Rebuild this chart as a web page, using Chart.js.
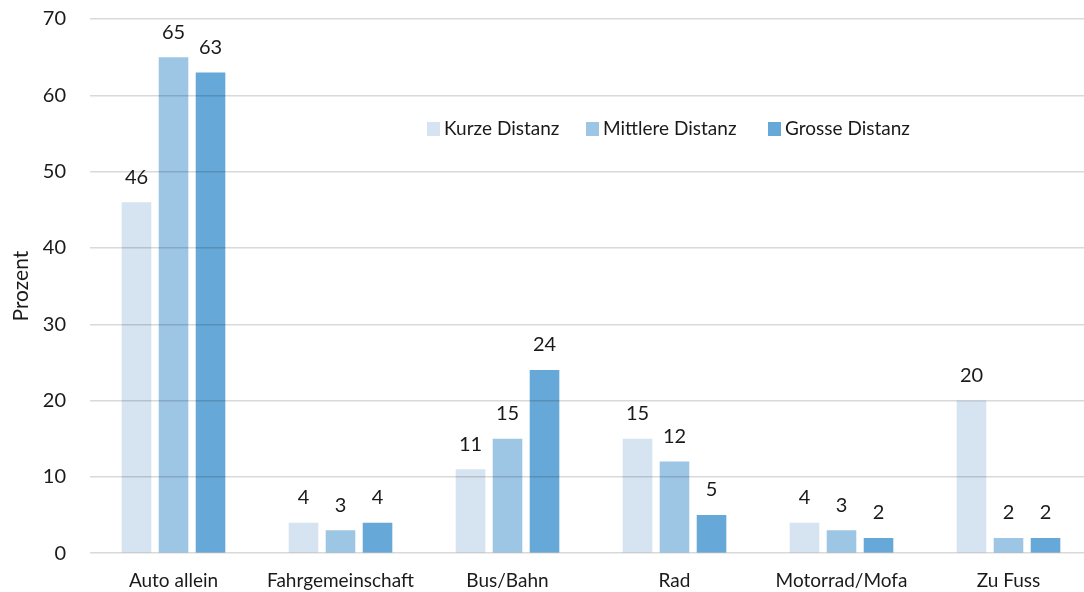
<!DOCTYPE html>
<html><head><meta charset="utf-8">
<script src="https://cdn.jsdelivr.net/npm/chart.js@4"></script>
<style>html,body{margin:0;padding:0;background:#fff}#c{display:block}</style>
</head><body>
<canvas id="c" width="1084" height="592"></canvas>
<script>
const categories = ["Auto allein","Fahrgemeinschaft","Bus/Bahn","Rad","Motorrad/Mofa","Zu Fuss"];
const seriesNames = ["Kurze Distanz","Mittlere Distanz","Grosse Distanz"];
const kurze = [46,4,11,15,4,20];
const mittlere = [65,3,15,12,3,2];
const grosse = [63,4,24,5,2,2];
const yTicks = [0,10,20,30,40,50,60,70];
const colors = ["#d6e3f0","#9dc6e5","#66a8d8"];
const FONT = "Lato, 'Liberation Sans', sans-serif";

const labelPlugin = {
  id: 'valueLabels',
  afterDatasetsDraw(chart) {
    const ctx = chart.ctx;
    ctx.save();
    ctx.font = "20px " + FONT;
    ctx.fillStyle = "#1a1a1a";
    ctx.textAlign = "center";
    ctx.textBaseline = "middle";
    chart.data.datasets.forEach((ds, i) => {
      chart.getDatasetMeta(i).data.forEach((bar, j) => {
        ctx.fillText(String(ds.data[j]), bar.x, bar.y - 25);
      });
    });
    ctx.restore();
  }
};
const legendPlugin = {
  id: 'inLegend',
  afterDraw(chart) {
    const ctx = chart.ctx;
    const xs = [427, 586, 768];
    ctx.save();
    ctx.font = "19px " + FONT;
    ctx.textBaseline = "middle";
    ctx.textAlign = "left";
    seriesNames.forEach((n, i) => {
      ctx.fillStyle = colors[i];
      ctx.fillRect(xs[i], 122, 13, 14);
      ctx.fillStyle = "#1a1a1a";
      ctx.fillText(n, xs[i] + 17, 129);
    });
    ctx.restore();
  }
};
// the category axis runs slightly past the right canvas edge in the reference
const extendX = {
  id: 'extendX',
  afterLayout(chart) {
    const x = chart.scales.x;
    x.right += 8; x.width += 8;
    x.configure();
  }
};

new Chart(document.getElementById('c'), {
  type: 'bar',
  data: {
    labels: categories,
    datasets: [kurze, mittlere, grosse].map((d, i) => ({
      label: seriesNames[i], data: d, backgroundColor: colors[i],
      categoryPercentage: 0.665, barPercentage: 0.8
    }))
  },
  options: {
    responsive: false, animation: false,
    layout: { padding: { top: 19, right: 0, left: 9, bottom: -8 } },
    plugins: { legend: { display: false }, tooltip: { enabled: false } },
    scales: {
      x: {
        grid: { display: false },
        border: { display: false },
        ticks: { color: "#1a1a1a", font: { size: 19, family: FONT }, padding: 8 }
      },
      y: {
        min: 0, max: 70,
        afterBuildTicks: s => { s.ticks = yTicks.map(v => ({ value: v })); },
        afterFit: s => { s.width = 81; s.paddingTop = 0; s.paddingBottom = 0; },
        grid: { color: "rgba(0,0,0,0.15)", drawTicks: false, lineWidth: 1.5, z: 1 },
        border: { display: false },
        ticks: { color: "#1a1a1a", font: { size: 20, family: FONT }, padding: 24 },
        title: { display: true, text: "Prozent", color: "#1a1a1a", font: { size: 21, family: FONT }, padding: 0 }
      }
    }
  },
  plugins: [labelPlugin, legendPlugin, extendX]
});
</script>
</body></html>
